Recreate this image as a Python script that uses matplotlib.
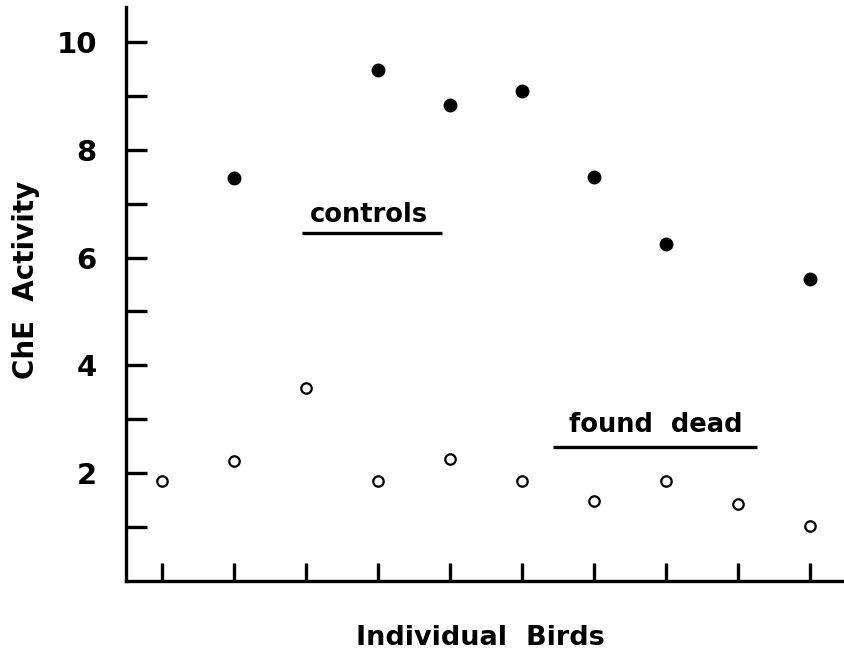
import matplotlib
matplotlib.use("Agg")
import matplotlib.pyplot as plt

plt.rcParams['font.family'] = ['DejaVu Sans']
plt.rcParams['font.weight'] = 'bold'

# individual birds 1..10
birds = [1, 2, 3, 4, 5, 6, 7, 8, 9, 10]
controls_x = [2, 4, 5, 6, 7, 8, 10]
controls_y = [7.47, 9.48, 8.83, 9.09, 7.49, 6.26, 5.61]
dead_x = birds
dead_y = [1.86, 2.23, 3.58, 1.86, 2.27, 1.86, 1.49, 1.86, 1.43, 1.02]
major_yticks = [2, 4, 6, 8, 10]
minor_yticks = [1, 3, 5, 7, 9]

fig = plt.figure(figsize=(8.44, 6.59), dpi=100)
ax = fig.add_axes([0.1493, 0.1184, 0.8507, 0.871])

ax.plot(controls_x, controls_y, 'o', color='black', markersize=9, clip_on=False)
ax.plot(dead_x, dead_y, 'o', markerfacecolor='white', markeredgecolor='black',
        markersize=7.5, markeredgewidth=1.6, clip_on=False)

# labels with underline
ax.text(3.87, 6.79, 'controls', ha='center', va='center', fontsize=18.5, fontweight='bold')
ax.hlines(6.46, 2.94, 4.89, color='black', linewidth=2.4)
ax.text(7.86, 2.89, 'found  dead', ha='center', va='center', fontsize=18.5, fontweight='bold')
ax.hlines(2.49, 6.43, 9.26, color='black', linewidth=2.4)

ax.set_xlim(0.5, 10.47)
ax.set_ylim(0, 10.65)

for s in ['top', 'right']:
    ax.spines[s].set_visible(False)
for s in ['left', 'bottom']:
    ax.spines[s].set_linewidth(2.4)

ax.set_xticks(birds)
ax.set_xticklabels([])
ax.tick_params(axis='x', direction='in', length=13, width=2.4)

ax.set_yticks(major_yticks)
ax.set_yticks(minor_yticks, minor=True)
ax.set_yticklabels([str(v) for v in major_yticks])
ax.tick_params(axis='y', which='both', direction='in', length=15, width=2.4)
ax.tick_params(axis='y', which='major', pad=21, labelsize=21)
for lab in ax.get_yticklabels():
    lab.set_fontweight('bold')

fig.text(0.5695, 0.032, 'Individual  Birds', ha='center', va='center', fontsize=19.5, fontweight='bold')
fig.text(0.031, 0.575, 'ChE  Activity', ha='center', va='center', rotation=90, fontsize=20, fontweight='bold')

fig.savefig('out.png', dpi=100)
